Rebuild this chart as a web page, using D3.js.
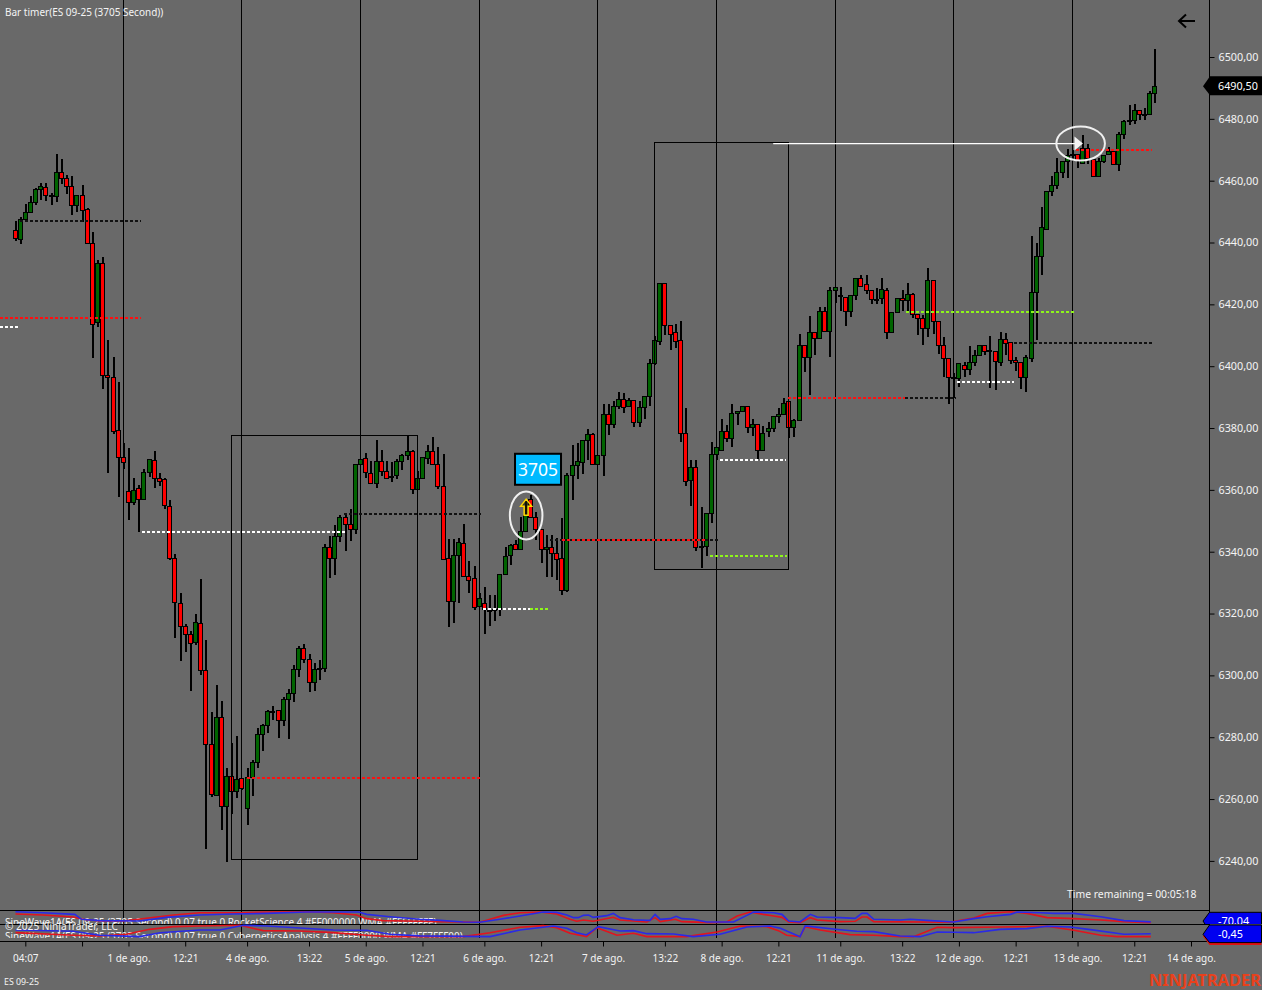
<!DOCTYPE html>
<html><head><meta charset="utf-8">
<style>html,body{margin:0;padding:0;background:#696969;overflow:hidden}svg{display:block}
text{font-family:"Noto Sans",sans-serif;fill:#f4f4f4}</style>
<script src="https://cdn.jsdelivr.net/npm/d3@7/dist/d3.min.js"></script></head><body>
<script>
const opens=[6444,6441.25,6447.5,6450,6453,6457.25,6458,6455.5,6455,6462.75,
6461,6458.25,6452.25,6455.25,6450.75,6439.75,6414.25,6433.5,6397.25,6396.5,
6379.5,6370.5,6359.75,6356,6360.5,6357,6365.75,6369.5,6363.75,6363.5,
6354.75,6338,6323.5,6316,6313.5,6310.75,6317,6301.75,6277.75,6261.25,
6286.5,6257.75,6267.5,6262.75,6266.75,6257.25,6267,6272,6281,6284,
6288.5,6288.75,6285.5,6292.25,6294.25,6302,6309,6305.25,6297.75,6302.25,
6302.25,6341.5,6338,6345,6351.25,6349,6347.5,6368.25,6370.25,6365.5,
6362.25,6369.25,6366,6364.5,6364.75,6369.25,6371.25,6372.5,6360.25,6364,
6370.25,6372.5,6368.5,6361.25,6338,6324,6339,6342.75,6332,6331.5,
6322.5,6323.25,6321.25,6321.5,6321.5,6332.75,6339,6342.5,6340.75,6346.75,
6357,6351.25,6347.5,6341,6341.5,6339.5,6338,6327.75,6364.75,6368,
6369,6376.25,6378,6368.25,6371.25,6384.5,6381.25,6387,6389.25,6387,
6389,6382,6386.75,6390.5,6401,6408,6426.75,6413.25,6411,6408.5,
6378.25,6363.25,6367.5,6341.5,6342,6352.5,6371.75,6372.75,6379,6376.75,
6384.75,6385.5,6387,6380.25,6381.25,6372.75,6379,6380,6383.75,6384.5,
6388.75,6380.25,6382.5,6406.75,6403,6411,6409.25,6417.75,6411.25,6424.5,
6423,6422.5,6418,6423,6428.5,6426.5,6424.5,6421.75,6422,6424.5,
6411,6417.5,6422,6421.25,6423.25,6416.75,6415.5,6412.5,6427.75,6414.75,
6406.75,6402.5,6396.5,6396.25,6400.5,6399.25,6401.5,6403.75,6406.75,6405.25,
6405,6401.5,6408.75,6407.75,6402,6401.25,6396.5,6402.75,6424,6435.75,
6444.5,6456.75,6458.75,6462.75,6466.25,6468.25,6468.5,6465.75,6470.5,6467,
6461.5,6466.25,6468.5,6469.5,6465.25,6475,6479.5,6479.5,6483,6481.5,
6481.5,6488.5];
const highs=[6447,6448.25,6452.5,6455,6457.5,6459.25,6459.25,6456,6468.5,6467,
6461.75,6461.5,6455.5,6458.5,6451.25,6443.5,6434.25,6435.25,6408.5,6403,
6394.75,6375,6373.5,6363.75,6361.5,6366.75,6370,6372.5,6365.5,6364,
6356.75,6339.25,6326.5,6316.75,6314.5,6319.75,6331.25,6311.5,6288,6297,
6291.75,6270,6278,6280.25,6266.75,6270,6272.5,6283,6284.25,6288.75,
6290.25,6288.75,6293,6295.5,6303.5,6309.5,6310,6307,6304,6305,
6342.5,6345,6348.5,6352,6352,6353.75,6368.5,6370,6372,6369.25,
6376,6373,6369.25,6369,6370,6371.75,6377.75,6373,6366,6370.5,
6374.5,6377,6374,6371.75,6344.25,6344,6344.5,6349,6337,6335.25,
6326.5,6328.5,6326,6326,6332.75,6341.5,6342.5,6343.75,6351.25,6356.75,
6358.25,6352.75,6347.5,6345.5,6345.5,6344.5,6351,6365.5,6374.5,6375.25,
6376.25,6379.75,6378.5,6371.25,6387.75,6387.75,6388.75,6391.5,6391.25,6389.75,
6389,6388.75,6390.5,6402.25,6409.75,6426.75,6426.75,6413.25,6413.5,6414.5,
6386.5,6369.5,6369.5,6354.5,6352.5,6375.5,6374,6383,6381,6387.75,
6385.5,6387.25,6387,6383,6381.25,6380.75,6382,6384,6386.5,6389.75,
6388.75,6383,6410.5,6406.75,6416.25,6411,6419,6419,6425.75,6425.5,
6425.5,6422.5,6423,6428.5,6429.5,6429.5,6424.5,6425.25,6428.5,6425.25,
6417.5,6422,6424.5,6426.75,6423.75,6417,6416.5,6431.75,6427.75,6414.75,
6409.5,6402.5,6397.75,6401,6401.5,6406.5,6405.25,6406.75,6406.75,6409.75,
6405,6411,6410.75,6407.75,6403,6401.25,6403.5,6442,6439.75,6451.5,
6456.5,6461.5,6467.25,6466.25,6470.25,6470,6468.5,6474.75,6472,6467,
6467.25,6468.25,6471,6469.5,6475.75,6479.5,6484.5,6484.75,6483,6483.5,
6489,6502.5];
const lows=[6440.5,6439.5,6447.25,6449.75,6452.25,6453.75,6453.5,6452,6453.25,6459,
6455.75,6449,6449.75,6446.75,6439.5,6402.5,6412.75,6392.5,6365.5,6378,
6357.75,6366.75,6350.25,6355,6346.5,6356.75,6364.25,6360.5,6361.25,6353.75,
6337.25,6312,6304.75,6307.5,6295,6309.75,6300,6244,6260.75,6261.25,
6250,6239.75,6255.25,6260.5,6263,6251.5,6261,6270,6275.5,6281.5,
6285.5,6279.75,6283.5,6279.5,6291.25,6299.5,6304,6294.75,6295,6298.5,
6301,6331.5,6332.5,6343.25,6340.25,6343.5,6345.75,6368,6363.75,6362.25,
6360.5,6364.5,6364,6362.5,6363.5,6366.5,6369.75,6358.75,6360,6363.5,
6368.5,6368.5,6360.25,6337.75,6315.75,6317,6323.5,6332,6326.5,6321,
6322.5,6313.5,6316,6317.5,6319.25,6332.75,6335.75,6340.75,6340.75,6346.75,
6351.25,6343.75,6336.5,6331.75,6331.75,6331,6326,6327,6356.75,6363.5,
6365,6369.75,6368.25,6368,6364.5,6377.75,6380,6386,6385,6387,
6380.25,6380.25,6383,6387,6400.5,6407,6410.25,6405.25,6405.75,6375.5,
6361.25,6354.75,6340.25,6334.75,6338.5,6349.25,6369.75,6372.75,6375.5,6374,
6381,6385.5,6378.25,6377.5,6370,6372.75,6377,6378.75,6381.75,6384.5,
6376.75,6377.25,6382.5,6398,6390.75,6403.5,6408.75,6411.25,6403,6420.5,
6418,6413,6416,6421.25,6426,6423.5,6420.25,6420.25,6420.25,6408.75,
6410.75,6417.25,6417.75,6417.5,6415.5,6410.25,6407,6409.5,6410.5,6404,
6396.5,6387.75,6389.75,6393.25,6396.5,6397,6400,6403.75,6403.5,6393,
6392.25,6400,6403.5,6400.75,6398.5,6392.5,6391.5,6401.5,6408.5,6429.5,
6444,6455,6457.25,6460.75,6461,6466.25,6464,6465.5,6465.5,6461.5,
6461.25,6465.75,6468.25,6465.5,6463.25,6473.5,6478,6478.25,6479.5,6479.5,
6481.5,6485.25];
const closes=[6441.5,6447.5,6450,6453,6457.25,6458.25,6455.25,6455.5,6462.75,6461,
6458.25,6452.25,6455.5,6450.5,6439.75,6413.75,6433.5,6397.25,6396.5,6379,
6370.5,6369,6356,6360,6357,6365.75,6370,6363.75,6363,6355,
6338,6323.75,6316,6313.5,6310.5,6317.25,6301.75,6277.75,6261.5,6286.5,
6257.75,6267.5,6262.75,6266.5,6263.5,6267,6272,6281,6284,6288.5,
6288.5,6285.5,6292.25,6294.25,6302,6309,6305.25,6297.75,6302,6302.25,
6341.5,6338,6345,6351.25,6349,6347.5,6368.25,6370,6365.75,6362.25,
6369.25,6366,6364,6364.5,6369.25,6371.25,6372.5,6360.25,6364,6370.5,
6372.5,6368.5,6361.25,6337.75,6324,6339,6343,6332.25,6331,6322.25,
6325,6321.5,6321.25,6321,6332.75,6338.5,6342.25,6340.75,6346.75,6352,
6351.25,6347.5,6341,6341.5,6339.5,6337.75,6327.75,6364.75,6368,6369.25,
6376.25,6378,6368.25,6371.25,6384.5,6381.25,6387,6389.25,6386.75,6389,
6382,6386.75,6390.5,6401,6408.5,6426.75,6413.25,6410.5,6408,6378.25,
6363,6367.25,6341.5,6342,6352.5,6371.5,6374,6379,6376.75,6384.75,
6385.5,6387,6380.25,6381.25,6372.75,6378.5,6380,6384,6384.5,6388.25,
6380.25,6382.5,6406.75,6403,6411,6409.25,6417.75,6411.25,6424.5,6425.5,
6423,6418,6423,6428.5,6426,6424.5,6421.75,6421.75,6425,6411,
6417.5,6422,6421.25,6423.25,6416.75,6415.5,6412.5,6427.75,6414.5,6406.75,
6402.5,6396.5,6396.5,6401,6399.25,6401.25,6403.5,6406.75,6405,6405.25,
6401.75,6408.75,6407.5,6402,6401.25,6396.5,6403,6424,6435.5,6445,
6456.5,6458.5,6462.75,6466.25,6468.25,6468.75,6466.75,6470.5,6467.25,6461.5,
6466.25,6468.25,6469.5,6465.5,6475,6479.25,6479.5,6483,6481.5,6481.5,
6488.25,6490.5];

const sessionBars=[21,44,67,90,113,136,159,182,205];
const priceTicks=[6240,6260,6280,6300,6320,6340,6360,6380,6400,6420,6440,6460,6480,6500];
const timeBars=[2,13,22,33,45,57,68,79,91,102,114,126,137,148,160,172,183,194,206,217,228];
const timeLabels=["04:07","","1 de ago.","12:21","4 de ago.","13:22","5 de ago.","12:21","6 de ago.","12:21","7 de ago.","13:22","8 de ago.","12:21","11 de ago.","13:22","12 de ago.","12:21","13 de ago.","12:21","14 de ago."];

// horizontal levels: [price, fromBar, toBar]
const blackLevels=[[6447,0.9,24.4],[6352.25,63.8,90.4],[6343.75,103.7,136.5],[6389.75,172.6,182.5],[6407.5,193.6,220.5]];
const redLevels=[[6415.5,-3,24.4],[6266.75,44.9,90.4],[6343.75,106,134.2],[6389.75,149.9,172.6],[6470,205.8,220.5]];
const whiteLevels=[[6412.75,-3,0.5],[6346.5,24.6,64],[6321.5,90.7,99.9],[6369.75,136.7,149.5],[6395,182.7,193.6]];
const limeLevels=[[6321.5,99.9,103.5],[6338.5,134.8,149.7],[6417.5,172.8,205.6]];
// boxes: [fromBar, toBar, topPrice, bottomPrice]
const boxes=[[41.9,78.1,6377.75,6240.5],[124,150,6472.5,6334.25]];
const ellipses=[[99.1,6351.75],[206.6,6472]];

// oscillator panels: [bar, value]
const rocketBlue=[[0.1,100],[5.4,83],[11.6,56],[12.9,-27],[16.4,-49],[24.2,-55],[29.4,6],[35.8,45],[42.3,61],[48.8,72],[56.5,94],[61.7,94],[66.6,94],[68.2,56],[72.7,17],[78.5,-27],[82.4,-44],[86.9,-71],[90.1,-77],[94,-27],[97.9,28],[102.4,94],[105,89],[107,45],[108.3,1],[109.2,1],[110.2,39],[111.2,45],[112.1,6],[114.7,34],[116,72],[117.3,1],[119.9,-33],[122.5,-44],[123.1,-44],[124.1,56],[125.1,-27],[127,-16],[128.2,23],[129.3,-16],[131.5,-27],[134.1,-71],[139.3,-71],[141.9,39],[143.2,94],[147.1,83],[148.7,56],[150,-55],[152.2,-71],[154.2,56],[155.5,12],[160,1],[162.9,-11],[164.2,72],[165.2,72],[166.5,-27],[171.6,-38],[173.6,-27],[176.8,-44],[182,-71],[185.9,-16],[188.5,17],[193,56],[194.3,94],[198.8,83],[201.4,72],[205.3,72],[210.5,17],[215,-49],[220.2,-70]];
const rocketRed=[[0.1,61],[5.4,45],[11.3,12],[13.2,-27],[16.4,-55],[21,-55],[30.7,45],[35.8,83],[43.6,83],[48.8,94],[56.5,100],[61.7,83],[66.2,45],[68.2,-16],[71.4,-49],[78.5,-60],[82.4,-66],[90.1,-77],[92.1,-27],[94.7,39],[97.9,83],[101.8,94],[105,61],[107.6,-27],[108.9,-60],[110.2,-38],[112.1,-60],[116,6],[117.3,-38],[122.5,-71],[124.1,1],[125.1,-66],[128,-27],[129.3,-66],[134.8,-82],[138,-71],[140,28],[142.5,94],[145.1,56],[147.1,28],[148.7,6],[150,-71],[152.2,-82],[154.2,1],[155.5,-38],[160,-66],[162.9,-60],[164.2,12],[165.2,12],[166.5,-66],[181.3,-77],[183.6,-38],[185.9,-5],[188.5,72],[193,100],[196.2,72],[200.1,1],[205.3,-16],[210.5,-38],[215,-66],[220.2,-82]];
const cyberBlue=[[0.1,.2],[11.3,-.03],[16.4,-.71],[24.2,-.94],[28.1,-.26],[35.8,.2],[39.7,.2],[44.3,1],[48.8,.89],[61.7,.2],[68.2,.14],[72.7,-.54],[78.5,-.8],[92.1,-.94],[97.9,.2],[104.4,.89],[107,.49],[108.9,-.26],[110.8,-.66],[113.1,.77],[117.3,.03],[119.9,.09],[122.5,-.43],[127.7,-.48],[131.5,-.94],[136.7,-.54],[141.9,.71],[146.4,.89],[148.4,.49],[152.2,-.94],[153.2,.89],[160,.25],[163.2,-.03],[166.5,-.08],[171.6,-.83],[175.5,-.94],[178.8,-.14],[182,-.2],[185.9,-.26],[191,.31],[196.2,.43],[200.1,.83],[204.6,.71],[208.5,.26],[215,-.54],[220.2,-.45]];
const cyberRed=[[0.1,-.26],[11.3,-.71],[16.4,-.83],[21.6,-.54],[26.1,.31],[30.7,.77],[35.8,.89],[43.6,1],[48.1,.09],[55.2,.03],[61.7,-.26],[68.2,-.71],[72.7,-.94],[86.9,-.94],[92.1,-.26],[97.9,.66],[102.4,.94],[105,.6],[107.6,-.37],[110.8,-.94],[112.8,.6],[116.7,-.71],[119.9,-.37],[122.5,-.94],[130.2,-.94],[136.1,-.14],[140.6,.89],[145.8,.77],[148,.09],[149.6,-.71],[152.2,-.94],[153.2,.77],[156.1,.2],[161.9,-.6],[166.5,-.71],[171.6,-.94],[174.2,-.94],[178.8,.66],[182,.6],[191,.71],[200.1,.83],[205.3,.14],[210.5,-.71],[213.7,-.94],[220.2,-.94]];

const lastPrice=6490.5;
const W=1262,H=990,axisX=1209.5;
const svg=d3.select("body").append("svg").attr("width",W).attr("height",H);
svg.append("rect").attr("width",W).attr("height",H).attr("fill","#696969");
const x=d3.scaleLinear().domain([0,221]).range([15,1154.9]);
const y=d3.scaleLinear().domain([6240,6500]).range([860.9,57]);
const yRocket=d3.scaleLinear().domain([-100,100]).range([923.7,911.7]);
const yCyber=d3.scaleLinear().domain([-1,1]).range([937,925.3]);
const px=v=>Math.floor(v);
const defs=svg.append("defs");
defs.append("clipPath").attr("id","pane1").append("rect").attr("x",0).attr("y",911).attr("width",axisX).attr("height",13);
defs.append("clipPath").attr("id","pane2").append("rect").attr("x",0).attr("y",925).attr("width",axisX).attr("height",13);
defs.append("clipPath").attr("id","tag1").append("rect").attr("x",1200).attr("y",905).attr("width",62).attr("height",19);

// session separators
svg.append("g").selectAll("line").data(sessionBars).join("line")
 .attr("x1",d=>px(x(d))+.5).attr("x2",d=>px(x(d))+.5).attr("y1",0).attr("y2",938)
 .attr("stroke","#000").attr("stroke-width",1);

// candles
const bars=d3.range(opens.length);
const c=svg.append("g").attr("shape-rendering","crispEdges");
c.selectAll(".w").data(bars).join("rect").attr("class","w")
 .attr("x",i=>px(x(i))).attr("width",2).attr("y",i=>y(highs[i])).attr("height",i=>y(lows[i])-y(highs[i])).attr("fill","#000");
c.selectAll(".b").data(bars).join("rect").attr("class","b")
 .attr("x",i=>px(x(i))-1.5).attr("width",4)
 .attr("y",i=>Math.round(y(Math.max(opens[i],closes[i])))+.5)
 .attr("height",i=>Math.max(Math.round(y(Math.min(opens[i],closes[i])))-Math.round(y(Math.max(opens[i],closes[i]))),0.5))
 .attr("fill",i=>closes[i]<opens[i]?"#ff0000":"#006400").attr("stroke","#000").attr("stroke-width",1);

// boxes
svg.append("g").selectAll("rect").data(boxes).join("rect")
 .attr("x",d=>px(x(d[0]))+.5).attr("width",d=>px(x(d[1]))-px(x(d[0])))
 .attr("y",d=>Math.round(y(d[2]))+.5).attr("height",d=>Math.round(y(d[3]))-Math.round(y(d[2])))
 .attr("fill","none").attr("stroke","#000").attr("stroke-width",1);

// levels
function levels(data,color){
 svg.append("g").attr("shape-rendering","crispEdges").selectAll("line").data(data).join("line")
  .attr("x1",d=>x(d[1])).attr("x2",d=>x(d[2])).attr("y1",d=>y(d[0])).attr("y2",d=>y(d[0]))
  .attr("stroke",color).attr("stroke-width",2).attr("stroke-dasharray","3 2");
}
levels(blackLevels,"#111");levels(redLevels,"#ff1010");levels(whiteLevels,"#fff");levels(limeLevels,"#8ff51a");

// white arrow + ellipses
svg.append("line").attr("x1",x(147)).attr("x2",x(205.6)).attr("y1",y(6472)).attr("y2",y(6472)).attr("stroke","#fff").attr("stroke-width",1.3);
svg.append("path").attr("d",`M${x(205.4)},${y(6472)-7}L${x(205.4)+8.5},${y(6472)}L${x(205.4)},${y(6472)+7}Z`).attr("fill","#f4f4f4");
svg.append("g").selectAll("ellipse").data(ellipses).join("ellipse")
 .attr("cx",d=>x(d[0])).attr("cy",d=>y(d[1])).attr("rx",(d,i)=>i?24.3:16.3).attr("ry",(d,i)=>i?17:24)
 .attr("fill","none").attr("stroke","#f0f0f0").attr("stroke-width",2);

// signal arrow and count label
const ax=x(99.1),ay=y(6357);
svg.append("path").attr("d",`M${ax},${ay}l-5.5,7h3.5v9h4v-9h3.5Z`).attr("fill","rgba(30,30,0,.6)").attr("stroke","#ffd800").attr("stroke-width",1.5);
const lx=x(101.4),ly=y(6366.5);
svg.append("rect").attr("x",lx-23).attr("y",ly-16).attr("width",46).attr("height",31).attr("fill","#00baff").attr("stroke","#000").attr("stroke-width",2);
svg.append("text").attr("x",lx).attr("y",ly+6.5).attr("text-anchor","middle").attr("font-size",17.5).style("fill","#fff").text("3705");

// y axis
const axisY=d3.axisRight(y).tickValues(priceTicks).tickSize(5).tickPadding(4).tickFormat(d=>d+",00");
const ga=svg.append("g").attr("transform",`translate(${axisX},0)`).call(axisY);
ga.select(".domain").remove();
ga.selectAll("line").attr("stroke","#000");
ga.selectAll("text").attr("font-size",10.8).attr("dy",".31em").style("font-family",'"Noto Sans",sans-serif').style("fill","#f4f4f4");
svg.append("line").attr("x1",axisX).attr("x2",axisX).attr("y1",0).attr("y2",941).attr("stroke","#000");

// panels
[910.5,924.5,941.5].forEach(v=>svg.append("line").attr("x1",0).attr("x2",axisX).attr("y1",v).attr("y2",v).attr("stroke","#000"));
svg.append("text").attr("x",5).attr("y",926).attr("clip-path","url(#pane1)").attr("font-size",9.95).text("SineWave1A(ES 09-25 (3705 Second) 0.07 true 0 RocketScience 4 #FF000000 WMA #FFFFFFFF)");
svg.append("text").attr("x",5).attr("y",940).attr("clip-path","url(#pane2)").attr("font-size",9.95).text("SineWave1A(ES 09-25 (3705 Second) 0.07 true 0 CyberneticsAnalysis 4 #FFFF0000 WMA #FF7FFF00)");
const lineOf=s=>d3.line().x(d=>x(d[0])).y(d=>s(d[1]));
[[rocketRed,yRocket,"#e2141e"],[rocketBlue,yRocket,"#2a2ae6"],[cyberRed,yCyber,"#e2141e"],[cyberBlue,yCyber,"#2a2ae6"]].forEach(([d,s,col])=>{
 svg.append("path").attr("d",lineOf(s)(d)).attr("fill","none").attr("stroke",col).attr("stroke-width",1.6);
});
svg.append("text").attr("x",5).attr("y",930).attr("font-size",11.5).attr("textLength",113).attr("lengthAdjust","spacingAndGlyphs").text("© 2025 NinjaTrader, LLC");

// price tags
const ly0=y(lastPrice);
svg.append("path").attr("d",`M1203,${ly0}L1210,${ly0-10}H1262V${ly0+9}H1210Z`).attr("fill","#000");
svg.append("text").attr("x",1218).attr("y",ly0+4).attr("font-size",10.8).style("fill","#fff").text("6490,50");
svg.append("g").attr("clip-path","url(#tag1)").call(g=>{
 g.append("path").attr("d","M1203,921L1209.5,912.3H1261.5V931H1209.5Z").attr("fill","#0000f0").attr("stroke","#000");
 g.append("text").attr("x",1218).attr("y",925).attr("font-size",10.8).style("fill","#fff").text("-70,04");
});
svg.append("path").attr("d","M1203,936.3L1209.5,945H1261.5V927H1209.5Z").attr("fill","#e01010");
svg.append("path").attr("d","M1203,934.3L1209.5,925H1261.5V942.6H1209.5Z").attr("fill","#0000f0").attr("stroke","#000");
svg.append("text").attr("x",1218).attr("y",938).attr("font-size",10.8).style("fill","#fff").text("-0,45");

// x axis
const axisT=d3.axisBottom(x).tickValues(timeBars).tickSize(5).tickPadding(8).tickFormat((d,i)=>timeLabels[i]);
const gt=svg.append("g").attr("transform","translate(0,941.5)").call(axisT);
gt.select(".domain").remove();
gt.selectAll("line").attr("stroke","#000");
gt.selectAll("text").attr("font-size",10).style("font-family",'"Noto Sans",sans-serif').style("fill","#f4f4f4");

// captions
svg.append("text").attr("x",5).attr("y",15.5).attr("font-size",10).text("Bar timer(ES 09-25 (3705 Second))");
svg.append("text").attr("x",1067).attr("y",898).attr("font-size",10.4).text("Time remaining = 00:05:18");
svg.append("text").attr("x",4).attr("y",984.5).attr("font-size",8.8).text("ES 09-25");
svg.append("text").attr("x",1149).attr("y",985.5).attr("font-size",16).attr("font-weight",700).attr("textLength",112).attr("lengthAdjust","spacingAndGlyphs").style("fill","#e8411c").text("NINJATRADER");
svg.append("path").attr("d","M1195,21H1179M1186,14.5L1179,21L1186,27.5").attr("fill","none").attr("stroke","#000").attr("stroke-width",2);
</script></body></html>
